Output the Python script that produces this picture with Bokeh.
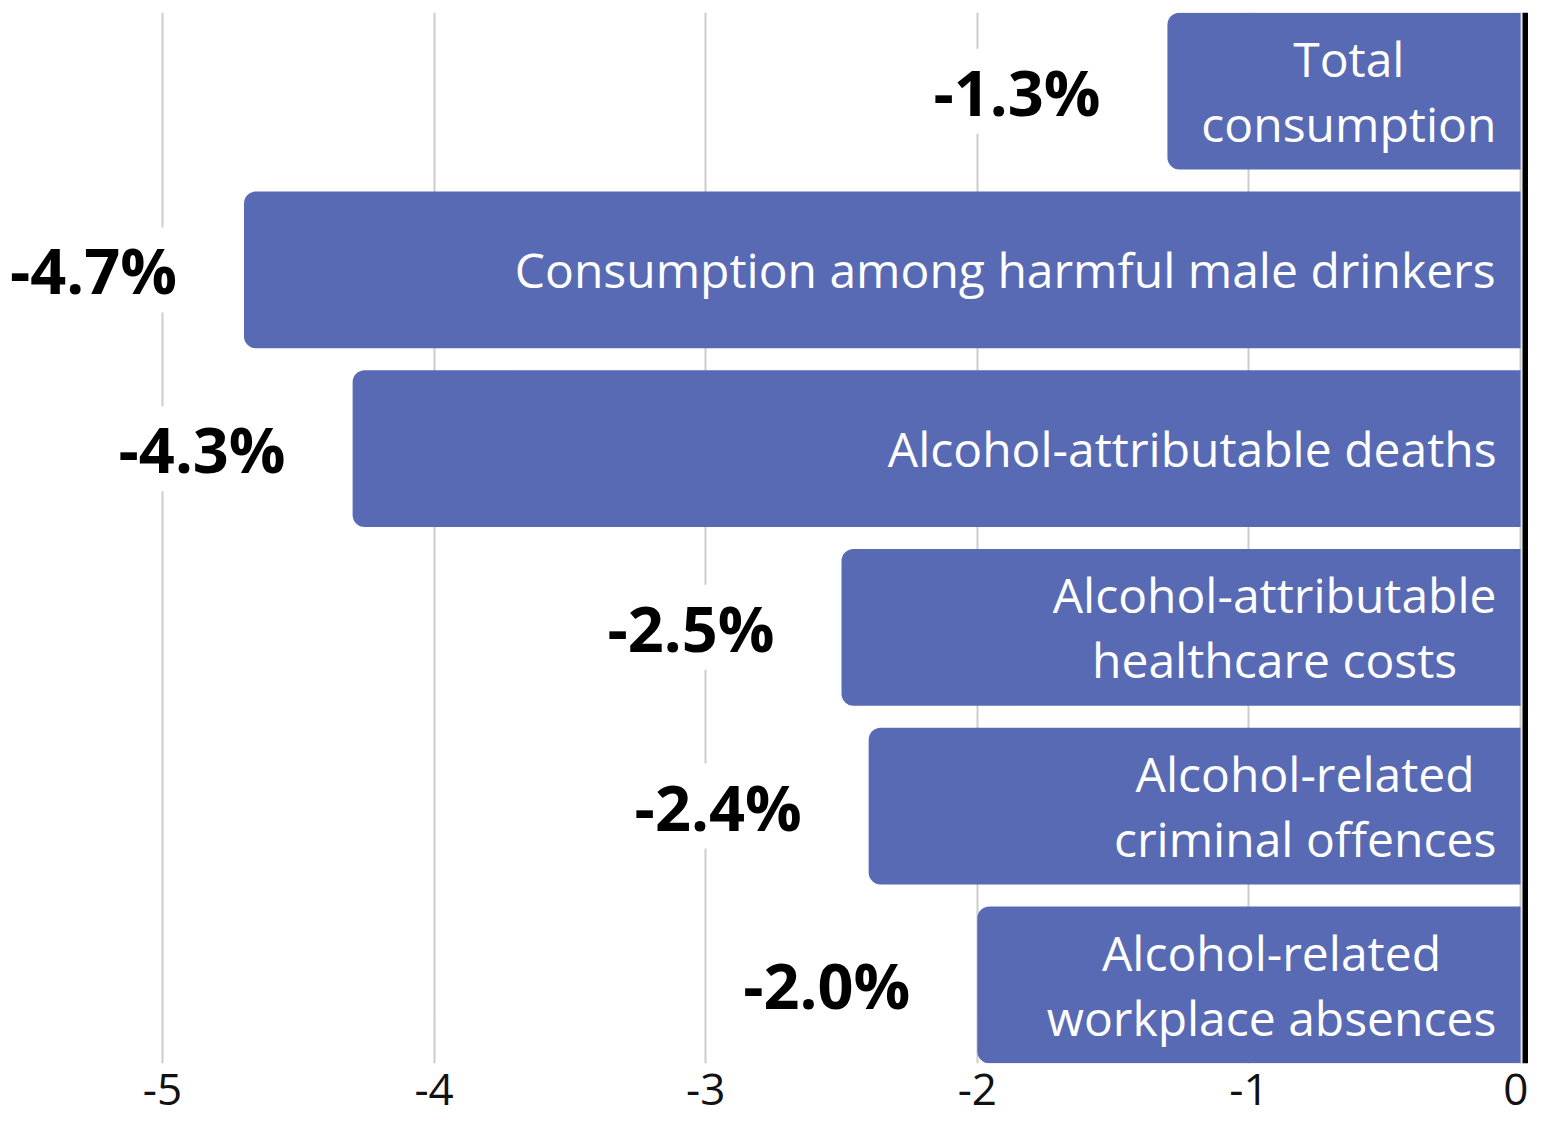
from bokeh.plotting import figure
from bokeh.models import ColumnDataSource, Range1d, FixedTicker, Span
from bokeh.core.properties import value
from bokeh.embed import file_html
from bokeh.resources import INLINE

# ---- data ----
categories = [
    "Total\nconsumption",
    "Consumption among harmful male drinkers",
    "Alcohol-attributable deaths",
    "Alcohol-attributable\nhealthcare costs",
    "Alcohol-related\ncriminal offences",
    "Alcohol-related\nworkplace absences",
]
changes = [-1.3, -4.7, -4.3, -2.5, -2.4, -2.0]
tick_values = [-5, -4, -3, -2, -1, 0]
tick_labels = ["-5", "-4", "-3", "-2", "-1", "0"]

# ---- styling ----
BAR_COLOR = "#586ab4"
FONT = "Open Sans"
CAT_SIZE = 48      # px
PCT_SIZE = 63      # px
TICK_SIZE = 44     # px

# approximate Open Sans Regular advance widths (em) to centre multi-line labels
_W = {" ": .260, "-": .322, "A": .633, "C": .631, "T": .556, "a": .556, "b": .613,
      "c": .476, "d": .613, "e": .561, "f": .339, "g": .548, "h": .614, "i": .253,
      "k": .525, "l": .253, "m": .930, "n": .614, "o": .604, "p": .613, "r": .408,
      "s": .477, "t": .353, "u": .614, "w": .783, "y": .501}


def text_width(s, size):
    return max(sum(_W.get(ch, .55) for ch in line) for line in s.split("\n")) * size


rows = list(range(len(categories)))
PAD = 24
src = ColumnDataSource(dict(
    y=rows,
    left=changes,
    right=[0] * len(changes),
    cat=categories,
    cat_off=[-(PAD + text_width(c, CAT_SIZE) / 2) for c in categories],
    pct=[f"{v:.1f}%" for v in changes],
))

W, H = 1528, 1130
PX_M5, PX_0 = 162, 1520            # canvas px of x=-5 and x=0
scale = (PX_0 - PX_M5) / 5.0        # px per unit
x_start = -5 - PX_M5 / scale
x_end = (W - PX_0) / scale

p = figure(width=W, height=H, output_backend="svg", toolbar_location=None,
           x_range=Range1d(x_start, x_end), y_range=Range1d(5.44, -0.44),
           y_axis_location=None, min_border_left=0, min_border_right=0,
           min_border_top=12, min_border_bottom=67)
p.outline_line_color = None
p.background_fill_color = "white"
p.border_fill_color = "white"

p.xaxis.ticker = FixedTicker(ticks=tick_values)
p.xaxis.major_label_overrides = {v: l for v, l in zip(tick_values, tick_labels)}
p.xaxis.axis_line_color = None
p.xaxis.major_tick_line_color = None
p.xaxis.minor_tick_line_color = None
p.xaxis.major_label_text_font = FONT
p.xaxis.major_label_text_font_size = f"{TICK_SIZE}px"
p.xaxis.major_label_text_color = "#111111"
p.xaxis.major_label_standoff = 4

p.ygrid.visible = False
p.xgrid.grid_line_color = "#cccccc"
p.xgrid.grid_line_width = 2

p.hbar(y="y", left="left", right="right", height=0.878, source=src,
       fill_color=BAR_COLOR, line_color=None, border_radius=(12, 0, 0, 12))

p.add_layout(Span(location=5 / scale, dimension="height",
                  line_color="black", line_width=6))

p.text(x="right", y="y", text="cat", x_offset="cat_off", source=src,
       text_font=value(FONT), text_font_size=f"{CAT_SIZE}px",
       text_color="white", text_align="center", text_baseline="middle",
       text_line_height=1.0)

p.text(x="left", y="y", text="pct", x_offset=-67, source=src,
       text_font=value(FONT), text_font_style="bold",
       text_font_size=f"{PCT_SIZE}px", text_color="black",
       text_align="right", text_baseline="middle",
       background_fill_color="white")

open("out.html", "w").write(file_html(p, INLINE))
